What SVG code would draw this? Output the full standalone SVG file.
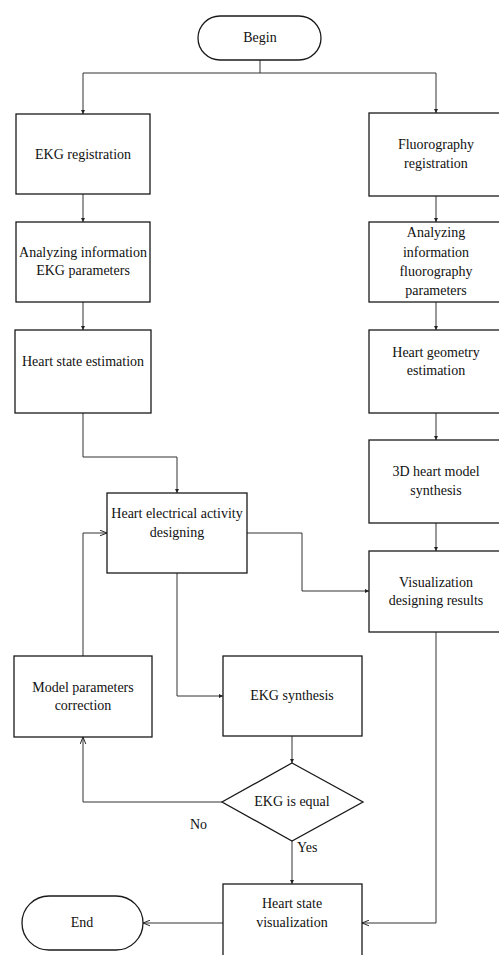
<svg xmlns="http://www.w3.org/2000/svg" width="499" height="955" viewBox="0 0 499 955">
<defs>
<style>
.box{fill:#fff;stroke:#1a1a1a;stroke-width:1.3}
.t{font-family:"Liberation Serif","Times New Roman",serif;font-size:14px;fill:#111;text-anchor:middle}
.tl{font-family:"Liberation Serif","Times New Roman",serif;font-size:14px;fill:#111}
.c{fill:none;stroke:#333;stroke-width:1}
</style>
<marker id="sm" viewBox="0 0 6 6" refX="6" refY="3" markerWidth="4" markerHeight="4" orient="auto" markerUnits="userSpaceOnUse"><path d="M0,0 L6,3 L0,6 z" fill="#222"/></marker>
<marker id="op" viewBox="0 0 10 10" refX="10" refY="5" markerWidth="7" markerHeight="7" orient="auto" markerUnits="userSpaceOnUse"><path d="M0,1 L10,5 L0,9" fill="none" stroke="#222" stroke-width="1.4"/></marker>
</defs>
<rect width="499" height="955" fill="#fff"/>

<g id="connectors">
<path class="c" d="M260,60 V73 M83,73 H436"/>
<path class="c" d="M83,73 V114" marker-end="url(#sm)"/>
<path class="c" d="M436,73 V113" marker-end="url(#sm)"/>
<path class="c" d="M83,194 V222" marker-end="url(#sm)"/>
<path class="c" d="M83,302 V330" marker-end="url(#sm)"/>
<path class="c" d="M83,413 V457 H177 V493" marker-end="url(#sm)"/>
<path class="c" d="M436,196 V222" marker-end="url(#sm)"/>
<path class="c" d="M436,302 V330" marker-end="url(#sm)"/>
<path class="c" d="M436,413 V440" marker-end="url(#sm)"/>
<path class="c" d="M436,523 V551" marker-end="url(#sm)"/>
<path class="c" d="M247,533 H302 V591 H369" marker-end="url(#sm)"/>
<path class="c" d="M177,573 V696 H223" marker-end="url(#sm)"/>
<path class="c" d="M83,656 V533 H107" marker-end="url(#op)"/>
<path class="c" d="M292,736 V763" marker-end="url(#sm)"/>
<path class="c" d="M222,802 H83 V737" marker-end="url(#op)"/>
<path class="c" d="M292,841 V884" marker-end="url(#sm)"/>
<path class="c" d="M436,632 V923 H362" marker-end="url(#op)"/>
<path class="c" d="M223,923 H143" marker-end="url(#op)"/>
<text class="tl" x="190" y="829">No</text>
<text class="tl" x="297" y="852">Yes</text>
</g>

<g id="begin"><rect class="box" x="198" y="16" width="123" height="44" rx="22"/><text class="t" x="260" y="42">Begin</text></g>
<g id="ekg-reg"><rect class="box" x="16" y="114" width="134" height="80"/><text class="t" x="83" y="159">EKG registration</text></g>
<g id="ekg-analyze"><rect class="box" x="16" y="222" width="134" height="80"/><text class="t" x="83" y="257">Analyzing information</text><text class="t" x="83" y="275">EKG parameters</text></g>
<g id="heart-state-est"><rect class="box" x="15" y="330" width="136" height="83"/><text class="t" x="83" y="366">Heart state estimation</text></g>
<g id="fluoro-reg"><rect class="box" x="369" y="113" width="134" height="83"/><text class="t" x="436" y="149">Fluorography</text><text class="t" x="436" y="168">registration</text></g>
<g id="fluoro-analyze"><rect class="box" x="369" y="222" width="134" height="80"/><text class="t" x="436" y="237">Analyzing</text><text class="t" x="436" y="257">information</text><text class="t" x="436" y="276">fluorography</text><text class="t" x="436" y="295">parameters</text></g>
<g id="heart-geom"><rect class="box" x="369" y="330" width="134" height="83"/><text class="t" x="436" y="357">Heart geometry</text><text class="t" x="436" y="375">estimation</text></g>
<g id="model3d"><rect class="box" x="369" y="440" width="134" height="83"/><text class="t" x="436" y="476">3D heart model</text><text class="t" x="436" y="495">synthesis</text></g>
<g id="vis-results"><rect class="box" x="369" y="551" width="134" height="81"/><text class="t" x="436" y="587">Visualization</text><text class="t" x="436" y="605">designing results</text></g>
<g id="electrical"><rect class="box" x="107" y="493" width="140" height="80"/><text class="t" x="177" y="518">Heart electrical activity</text><text class="t" x="177" y="537">designing</text></g>
<g id="model-corr"><rect class="box" x="14" y="656" width="138" height="81"/><text class="t" x="83" y="692">Model parameters</text><text class="t" x="83" y="710">correction</text></g>
<g id="ekg-synth"><rect class="box" x="223" y="656" width="139" height="80"/><text class="t" x="292" y="700">EKG synthesis</text></g>
<g id="ekg-equal"><polygon class="box" points="292,763 363,802 292,841 222,802"/><text class="t" x="292" y="806">EKG is equal</text></g>
<g id="heart-vis"><rect class="box" x="223" y="884" width="139" height="80"/><text class="t" x="292" y="908">Heart state</text><text class="t" x="292" y="927">visualization</text></g>
<g id="end"><rect class="box" x="22" y="896" width="121" height="54" rx="27"/><text class="t" x="82" y="927">End</text></g>
</svg>
